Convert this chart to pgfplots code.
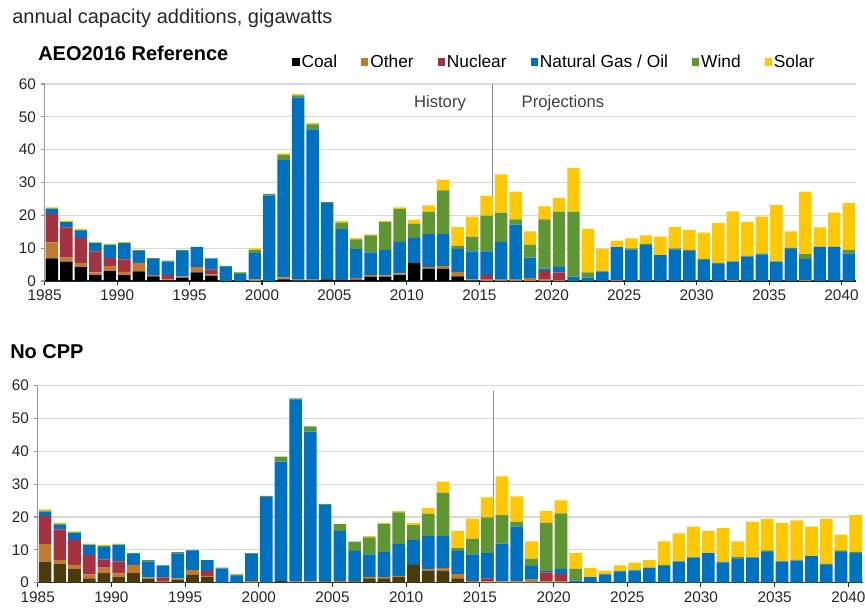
\documentclass[border=0pt]{standalone}
\usepackage{fontspec}
\setmainfont{Liberation Sans}
\usepackage{pgfplots}
\usepackage{pgfplotstable}
\pgfplotsset{compat=1.18}

\definecolor{coalc}{RGB}{0,0,0}
\definecolor{coalb}{RGB}{74,58,12}
\definecolor{otherc}{RGB}{196,121,44}
\definecolor{nucc}{RGB}{164,50,64}
\definecolor{gasc}{RGB}{0,112,192}
\definecolor{windc}{RGB}{96,150,50}
\definecolor{solarc}{RGB}{255,200,0}

% AEO2016 Reference case
\pgfplotstableread{
year coal other nuclear gas wind solar
1985 6.9 4.9 8.6 1.5 0.2 0.3
1986 5.9 1.2 9.2 1.6 0.1 0.4
1987 4.2 1.3 7.6 2.3 0.1 0.4
1988 1.8 0.8 6.4 2.5 0.1 0.3
1989 3.0 1.6 2.4 4.0 0.1 0.3
1990 1.8 1.0 3.8 4.9 0.1 0.3
1991 2.9 2.6 0 3.6 0.3 0.1
1992 1.4 0.4 0 4.9 0.3 0
1993 0.2 0.3 1.3 4.1 0.3 0
1994 1.0 0.4 0 7.7 0.4 0
1995 2.6 1.6 0 6.1 0.1 0
1996 1.6 0.4 1.5 3.4 0 0
1997 0 0 0 4.3 0.3 0
1998 0 0 0 2.2 0.4 0.2
1999 0 0.5 0 8.1 0.9 0.4
2000 0 0 0 26.1 0.4 0
2001 0.5 0.6 0 35.8 1.5 0.5
2002 0.1 0.3 0 55.5 0.6 0.5
2003 0.1 0.3 0 45.8 1.5 0.4
2004 0.5 0 0 23.2 0.3 0
2005 0.4 0 0 15.4 2.0 0.5
2006 0.4 0.5 0 8.8 3.0 0.4
2007 1.3 0.5 0 6.9 5.2 0.3
2008 1.3 0.4 0 7.7 8.5 0.4
2009 1.8 0.5 0 9.6 10.1 0.4
2010 5.5 0 0 7.6 4.4 1.2
2011 3.8 0.5 0 10.0 6.8 1.9
2012 3.8 0.8 0 9.7 13.3 3.3
2013 1.4 1.4 0 7.0 0.9 5.7
2014 0.1 0.4 0 8.5 4.5 6.1
2015 0 0.4 1.4 7.2 10.9 6.1
2016 0 0.4 0 11.5 8.9 11.7
2017 0 0.4 0 16.8 1.6 8.4
2018 0 0.9 0 6.2 4.0 4.0
2019 0 0.4 2.6 0.8 15.0 3.9
2020 0 0.3 2.3 1.7 16.8 4.2
2021 0 0 0 1.3 19.8 13.3
2022 0 0 0 1.0 1.6 13.3
2023 0 0 0 2.9 0 6.9
2024 0 0.3 0 10.0 0 2.0
2025 0 0 0 9.6 0.3 3.1
2026 0 0 0 11.0 0.3 2.6
2027 0 0 0 7.9 0 5.6
2028 0 0 0 9.6 0.3 6.5
2029 0 0 0 9.1 0.4 6.0
2030 0 0 0 6.4 0.3 8.0
2031 0 0 0 5.2 0.4 12.0
2032 0 0.3 0 5.6 0.1 15.2
2033 0 0 0 7.4 0.3 10.3
2034 0 0 0 8.0 0.4 11.2
2035 0 0 0 5.9 0.1 17.1
2036 0 0 0 9.8 0.4 4.9
2037 0 0.3 0 6.4 1.5 19.0
2038 0 0 0 10.4 0 5.9
2039 0 0 0 10.4 0 10.4
2040 0 0 0 8.4 1.1 14.2
}\refdata

% No CPP case
\pgfplotstableread{
year coal other nuclear gas wind solar
1985 6.4 5.3 8.6 1.3 0.3 0.4
1986 5.8 1.1 9.3 1.5 0.3 0.3
1987 4.1 1.3 7.6 2.2 0.1 0.3
1988 1.3 1.2 6.0 3.0 0.1 0.3
1989 2.9 1.7 2.4 3.9 0.3 0.3
1990 1.7 1.1 3.7 5.0 0.1 0.3
1991 2.9 2.5 0 3.4 0.3 0
1992 1.2 0.4 0 4.9 0.4 0
1993 0.2 0.3 1.1 3.7 0 0
1994 0.9 0.4 0 7.6 0.4 0
1995 2.4 1.5 0 5.9 0.1 0
1996 1.7 0.4 1.4 3.4 0 0
1997 0 0 0 4.3 0.3 0
1998 0 0 0 2.1 0.4 0
1999 0 0.5 0 8.2 0.3 0
2000 0 0 0 26.1 0.3 0
2001 0.5 0 0 36.4 1.5 0
2002 0.1 0.2 0 55.5 0.3 0
2003 0.2 0.2 0 45.6 1.6 0
2004 0.4 0 0 23.2 0.4 0
2005 0.2 0.3 0 15.3 2.0 0
2006 0.4 0 0 9.3 2.8 0
2007 1.3 0.4 0 6.9 5.2 0.4
2008 1.3 0.4 0 7.7 8.4 0.4
2009 1.7 0.4 0 9.7 9.6 0.4
2010 5.4 0 0 7.6 4.5 0.7
2011 3.7 0.5 0 10.0 6.8 1.7
2012 3.7 0.8 0 9.7 13.2 3.4
2013 1.3 1.3 0 7.1 0.8 5.3
2014 0.1 0.4 0 8.1 4.8 6.1
2015 0 0.4 0.9 7.7 10.9 6.1
2016 0 0.4 0 11.5 8.7 11.8
2017 0 0.4 0 16.7 1.5 7.7
2018 0 0.9 0 4.1 2.3 5.3
2019 0 0.4 2.7 0.4 14.8 3.6
2020 0 0.3 2.3 1.6 16.9 4.0
2021 0 0 0 0.6 3.6 4.8
2022 0 0 0 1.7 0 2.8
2023 0 0 0 2.5 0.2 1.0
2024 0 0 0 3.4 0.2 1.7
2025 0 0 0 3.7 0.3 2.1
2026 0 0 0 4.6 0 2.3
2027 0 0 0 5.0 0.4 7.2
2028 0 0 0 6.5 0 8.5
2029 0 0 0 7.7 0 9.4
2030 0 0 0 9.0 0 6.8
2031 0 0 0 6.2 0.2 10.2
2032 0 0 0 7.4 0.4 4.8
2033 0 0 0 7.7 0 10.9
2034 0 0 0 9.4 0.4 9.6
2035 0 0 0 6.5 0 11.7
2036 0 0 0 6.7 0.3 12.0
2037 0 0 0 8.1 0 9.0
2038 0 0 0 5.4 0.4 13.6
2039 0 0 0 9.4 0.4 4.8
2040 0 0 0 9.0 0.4 11.2
}\nocppdata

\pgfplotsset{
  capax/.style={
    scale only axis, anchor=south west,
    ybar stacked, bar width=0.86,
    xmin=1985, xmax=2041, ymin=0, ymax=60,
    xtick={1985,1990,...,2040}, ytick={0,10,...,60},
    axis x line*=bottom, axis y line*=left,
    x axis line style={black!85,line width=0.9pt},
    y axis line style={black!40,line width=0.8pt},
    ymajorgrids, grid style={black!15,line width=0.9pt},
    tick align=outside, major tick length=3pt,
    xtick style={black!85,line width=0.8pt},
    ytick style={black!40,line width=0.8pt},
    tick label style={font=\fontsize{11.5}{12}\selectfont,text=black!85},
    /pgf/number format/assume math mode=true,
    xticklabel style={/pgf/number format/1000 sep=},
    legend image code/.code={\fill[##1] (0pt,-2.8pt) rectangle (5.4pt,2.6pt);},
  },
  seg/.style={fill=#1,draw=none},
}

\begin{document}
\begin{tikzpicture}
\path[use as bounding box] (0,0) rectangle (648.75pt,457.5pt);

\node[anchor=west,font=\fontsize{15}{18}\selectfont,text=black!85,inner sep=0pt]
  at ({12*0.75pt},{(610-18)*0.75pt}) {annual capacity additions, gigawatts};
\node[anchor=west,font=\fontsize{15}{18}\selectfont\bfseries,inner sep=0pt]
  at ({38*0.75pt},{(610-53)*0.75pt}) {AEO2016 Reference};
\node[anchor=west,font=\fontsize{15}{18}\selectfont\bfseries,inner sep=0pt]
  at ({10*0.75pt},{(610-352)*0.75pt}) {No CPP};

\begin{axis}[capax,
  at={(33.5pt,246.75pt)}, width=608.5pt, height=147.75pt,
  legend style={at={(0.3,1.112)},anchor=west,draw=none,fill=none,
    legend columns=6,font=\fontsize{13}{14}\selectfont,
    /tikz/every even column/.append style={column sep=16.5pt},
    nodes={inner sep=1.5pt}},
]
\addplot[seg=coalc] table[x expr=\thisrow{year}+0.5,y=coal] {\refdata};
\addplot[seg=otherc] table[x expr=\thisrow{year}+0.5,y=other] {\refdata};
\addplot[seg=nucc] table[x expr=\thisrow{year}+0.5,y=nuclear] {\refdata};
\addplot[seg=gasc] table[x expr=\thisrow{year}+0.5,y=gas] {\refdata};
\addplot[seg=windc] table[x expr=\thisrow{year}+0.5,y=wind] {\refdata};
\addplot[seg=solarc] table[x expr=\thisrow{year}+0.5,y=solar] {\refdata};
\legend{Coal,Other,Nuclear,Natural Gas / Oil,Wind,Solar}
\draw[black!45,line width=0.8pt] (axis cs:2015.9,0) -- (axis cs:2015.9,60);
\node[anchor=east,font=\fontsize{12.5}{14}\selectfont,text=black!75] at (axis cs:2014.4,54.2) {History};
\node[anchor=west,font=\fontsize{12.5}{14}\selectfont,text=black!75] at (axis cs:2017.6,54.2) {Projections};
\end{axis}

\begin{axis}[capax,
  at={(28.3pt,20.5pt)}, width=619pt, height=147.75pt,
]
\addplot[seg=coalb] table[x expr=\thisrow{year}+0.5,y=coal] {\nocppdata};
\addplot[seg=otherc] table[x expr=\thisrow{year}+0.5,y=other] {\nocppdata};
\addplot[seg=nucc] table[x expr=\thisrow{year}+0.5,y=nuclear] {\nocppdata};
\addplot[seg=gasc] table[x expr=\thisrow{year}+0.5,y=gas] {\nocppdata};
\addplot[seg=windc] table[x expr=\thisrow{year}+0.5,y=wind] {\nocppdata};
\addplot[seg=solarc] table[x expr=\thisrow{year}+0.5,y=solar] {\nocppdata};
\draw[black!45,line width=0.8pt] (axis cs:2015.9,0) -- (axis cs:2015.9,58.4);
\end{axis}
\end{tikzpicture}
\end{document}
